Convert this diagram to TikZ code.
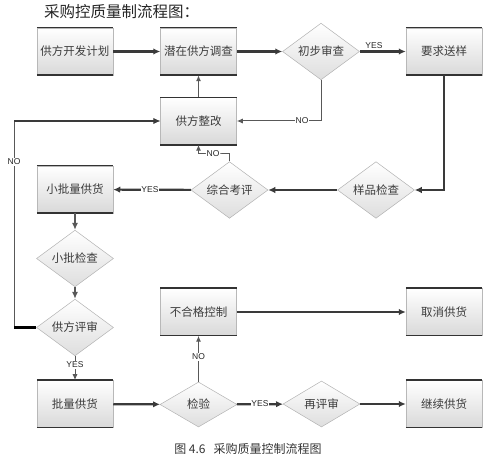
\documentclass[tikz,border=0pt]{standalone}
\usepackage{fontspec}
\newfontfamily\cjk{Noto Sans CJK SC}
\newfontfamily\lab{Liberation Sans}
\usetikzlibrary{shapes.geometric,arrows.meta}
\definecolor{ln}{HTML}{3A3A3A}
\definecolor{txt}{HTML}{3C3C3C}
\tikzset{
  box/.style={rectangle, minimum width=76pt, minimum height=47pt, inner sep=0pt,
    top color=white, bottom color=black!15, draw=black!28, line width=0.5pt,
    font=\cjk\fontsize{11.5}{13}\selectfont, text=txt},
  dia/.style={diamond, minimum width=77pt, minimum height=46pt, inner sep=0pt,
    top color=white, bottom color=black!13, draw=black!30, line width=0.5pt,
    font=\cjk\fontsize{11.5}{13}\selectfont, text=txt},
  thk/.style={draw=ln, line width=2.2pt, -{Latex[length=7pt,width=6.5pt]}},
  mid/.style={draw=ln!85, line width=1.6pt, -{Latex[length=7pt,width=6pt]}},
  thn/.style={draw=ln!85, line width=1pt, -{Latex[length=6pt,width=5pt]}},
  lbl/.style={font=\lab\fontsize{8.5}{9}\selectfont, text=black!85, fill=white, inner sep=0.8pt},
  edgeA/.style={black!80, line width=1.6pt},
  edgeB/.style={black!80, line width=0.7pt},
}
\begin{document}
\begin{tikzpicture}[x=1pt,y=-1pt]
\useasboundingbox (0,0) rectangle (499,465);
% title and caption
\node[font=\cjk\fontsize{15.5}{17}\selectfont, text=black!85, anchor=west, inner sep=0pt] (title) at (44,12) {采购控质量制流程图：};
\node[font=\cjk\fontsize{12}{14}\selectfont, text=black!80, inner sep=0pt] (caption) at (248,449) {图 4.6\ \ \ 采购质量控制流程图};
% nodes
\node[box] (plan) at (75,51.5) {供方开发计划};
\node[box] (survey) at (198.5,51.5) {潜在供方调查};
\node[dia] (prelim) at (321,51.5) {初步审查};
\node[box] (req) at (444,51.5) {要求送样};
\node[box] (rect) at (198.5,121) {供方整改};
\node[dia] (sck) at (376,190) {样品检查};
\node[dia] (overall) at (229.5,190) {综合考评};
\node[box] (small) at (75,189.5) {小批量供货};
\node[dia, minimum height=45pt] (smallck) at (75,258.5) {小批检查};
\node[dia, minimum height=45pt] (review) at (75,327.5) {供方评审};
\node[box] (noncf) at (198.5,312) {不合格控制};
\node[box] (cancel) at (444,312) {取消供货};
\node[box] (batch) at (75,404) {批量供货};
\node[dia, minimum height=45pt] (insp) at (198.5,404.5) {检验};
\node[dia] (rerev) at (321.5,404) {再评审};
\node[box] (cont) at (444,404) {继续供货};
% box edges
\foreach \n in {plan,survey,req,rect,small}{
  \draw[edgeA] (\n.south west) -- (\n.south east);
  \draw[edgeB] (\n.north west) -- (\n.north east);
}
\foreach \n in {batch,cont,cancel,noncf}{
  \draw[edgeA] (\n.north west) -- (\n.north east);
  \draw[edgeB] (\n.south west) -- (\n.south east);
}
% connectors
\draw[thk] (plan) -- (survey);
\draw[thk] (survey) -- (prelim);
\draw[thk] (prelim) -- (req);
\draw[thn] (prelim.south) |- (rect.east);
\draw[thn] (rect) -- (survey);
\draw[thk] (req.south) |- (sck.east);
\draw[thk] (sck) -- (overall);
\draw[thn] (overall.north) |- (213,154) -| (rect.south);
\draw[thk] (overall) -- (small);
\draw[mid] (small) -- (smallck);
\draw[mid] (smallck) -- (review);
\draw[thn] (review.west) -| (14,121) -- (rect.west);
\draw[draw=black, line width=2.2pt] (review.west) -- (14,327.5);
\draw[thk] (14,121) -- (rect.west);
\draw[thn] (review) -- (batch);
\draw[thk] (batch) -- (insp);
\draw[thn] (insp) -- (noncf);
\draw[thk] (noncf) -- (cancel);
\draw[thk] (insp) -- (rerev);
\draw[thk] (rerev) -- (cont);
% labels
\node[lbl, fill=none] (ly1) at (374,46) {YES};
\node[lbl] (ln1) at (302,121) {NO};
\node[lbl] (ln2) at (213,154) {NO};
\node[lbl] (ly2) at (150,190) {YES};
\node[lbl] (ln3) at (14,162) {NO};
\node[lbl] (ly3) at (75,365) {YES};
\node[lbl] (ln4) at (198.5,357) {NO};
\node[lbl] (ly4) at (260,404) {YES};
\end{tikzpicture}
\end{document}
